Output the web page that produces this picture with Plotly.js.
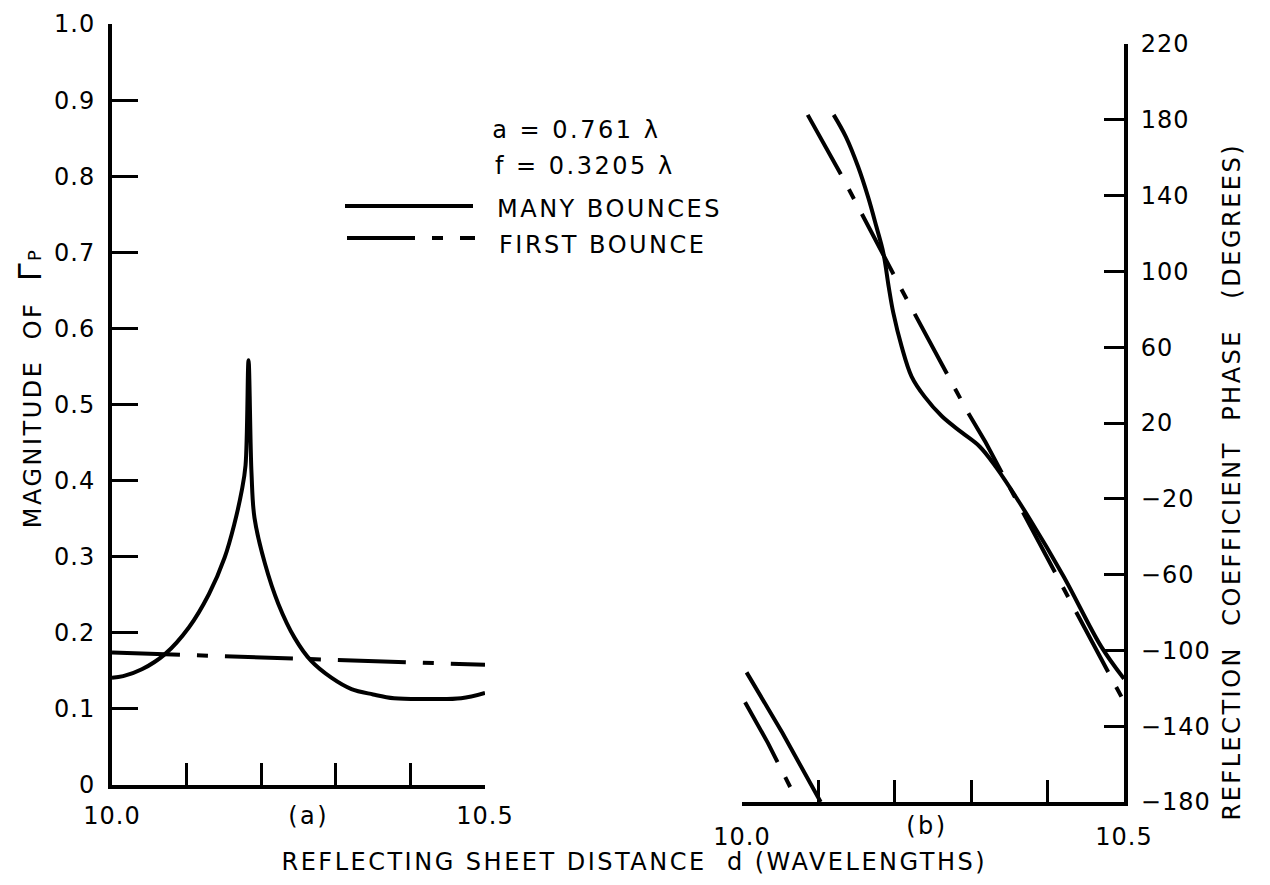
<!DOCTYPE html>
<html>
<head>
<meta charset="utf-8">
<script src="https://cdn.plot.ly/plotly-3.0.1.min.js"></script>
<style>
  html, body { margin: 0; padding: 0; background: #fff; }
  #chart { width: 1270px; height: 885px; }
  .js-plotly-plot .annotation-text { letter-spacing: 2.5px; }
  .js-plotly-plot .xtick text, .js-plotly-plot .ytick text,
  .js-plotly-plot .x2tick text, .js-plotly-plot .y2tick text { letter-spacing: 1px; }
</style>
</head>
<body>
<div id="chart"></div>
<script>
// ---------- Panel (a): magnitude of reflection coefficient ----------
const magManyD = [10.0, 10.015, 10.04, 10.071, 10.103, 10.13, 10.151, 10.164, 10.174, 10.179, 10.183, 10.187, 10.191, 10.205, 10.223, 10.245, 10.267, 10.294, 10.321, 10.35, 10.378, 10.424, 10.468, 10.5];
const magMany  = [0.141, 0.143, 0.152, 0.172, 0.207, 0.251, 0.299, 0.343, 0.387, 0.42, 0.558, 0.41, 0.351, 0.291, 0.238, 0.193, 0.163, 0.141, 0.126, 0.119, 0.114, 0.113, 0.114, 0.121];
const magFirstD = [10.0, 10.1, 10.2, 10.3, 10.4, 10.5];
const magFirst  = [0.174, 0.171, 0.168, 0.164, 0.161, 0.158];

// ---------- Panel (b): reflection coefficient phase (degrees) ----------
const phManyUpperD = [10.120, 10.136, 10.152, 10.165, 10.176, 10.185, 10.192, 10.198, 10.209, 10.222, 10.239, 10.262, 10.288, 10.311, 10.332, 10.377, 10.421, 10.470, 10.5];
const phManyUpper  = [182.6, 171, 155.2, 139.3, 123.5, 109.8, 91.9, 78.2, 60.3, 44.5, 33.9, 23.4, 14.9, 7.6, -3.0, -30.9, -61, -97.9, -115];
const phManyLowerD = [10.006, 10.053, 10.103];
const phManyLower  = [-111.6, -143.6, -180];
const phFirstUpperD = [10.086, 10.132, 10.209, 10.295, 10.319, 10.421, 10.5];
const phFirstUpper  = [182.6, 149.4, 90.3, 26, 9.7, -66.8, -127];
const phFirstLowerD = [10.004, 10.034, 10.073];
const phFirstLower  = [-127.4, -148.9, -180];

// ---------- Tick labels ----------
const xTickVals = [10.0, 10.5];
const xTickText = ['10.0', '10.5'];
const xMinorTickVals = [10.1, 10.2, 10.3, 10.4];
const magTickVals = [0, 0.1, 0.2, 0.3, 0.4, 0.5, 0.6, 0.7, 0.8, 0.9, 1.0];
const magTickText = ['0', '0.1', '0.2', '0.3', '0.4', '0.5', '0.6', '0.7', '0.8', '0.9', '1.0'];
const phTickVals = [-180, -140, -100, -60, -20, 20, 60, 100, 140, 180, 220];
const phTickText = ['\u2212180', '\u2212140', '\u2212100', '\u221260', '\u221220', '20', '60', '100', '140', '180', '220'];

const FONT = 'DejaVu Sans, Liberation Sans, sans-serif';
const DASHDOT = '68px,17px,11px,17px';
const LW = 4;

const traces = [
  { x: magManyD, y: magMany, xaxis: 'x', yaxis: 'y', mode: 'lines', name: 'MANY BOUNCES',
    line: { color: '#000', width: LW, shape: 'spline', smoothing: 1 }, showlegend: false },
  { x: magFirstD, y: magFirst, xaxis: 'x', yaxis: 'y', mode: 'lines', name: 'FIRST BOUNCE',
    line: { color: '#000', width: LW, dash: DASHDOT }, showlegend: false },
  { x: phManyUpperD, y: phManyUpper, xaxis: 'x2', yaxis: 'y2', mode: 'lines', name: 'MANY BOUNCES',
    line: { color: '#000', width: LW, shape: 'spline', smoothing: 1 }, showlegend: false },
  { x: phManyLowerD, y: phManyLower, xaxis: 'x2', yaxis: 'y2', mode: 'lines', name: 'MANY BOUNCES',
    line: { color: '#000', width: LW }, showlegend: false },
  { x: phFirstUpperD, y: phFirstUpper, xaxis: 'x2', yaxis: 'y2', mode: 'lines', name: 'FIRST BOUNCE',
    line: { color: '#000', width: LW, dash: DASHDOT }, showlegend: false },
  { x: phFirstLowerD, y: phFirstLower, xaxis: 'x2', yaxis: 'y2', mode: 'lines', name: 'FIRST BOUNCE',
    line: { color: '#000', width: LW, dash: DASHDOT }, showlegend: false }
];

const W = 1270, H = 885;
const px = v => v / W;
const py = v => 1 - v / H;

const TICKFONT = { family: FONT, size: 24, color: '#000' };
const axisCommon = {
  showline: true, linecolor: '#000', linewidth: LW, showgrid: false, zeroline: false,
  ticks: 'inside', tickcolor: '#000', tickwidth: 3, tickfont: TICKFONT, fixedrange: true
};
const minorX = { tickmode: 'array', tickvals: xMinorTickVals, ticks: 'inside', ticklen: 22, tickwidth: 3, tickcolor: '#000', showgrid: false };

const annFont = { family: FONT, size: 24, color: '#000' };

const layout = {
  width: W, height: H,
  margin: { l: 0, r: 0, t: 0, b: 0, pad: 0 },
  paper_bgcolor: '#fff', plot_bgcolor: 'rgba(0,0,0,0)',
  showlegend: false,
  font: { family: FONT, color: '#000' },
  xaxis: Object.assign({}, axisCommon, {
    domain: [px(112), px(485)], range: [10, 10.5], anchor: 'y',
    tickmode: 'array', tickvals: xTickVals, ticktext: xTickText, ticklen: 22, ticklabelstandoff: 6,
    minor: minorX
  }),
  yaxis: Object.assign({}, axisCommon, {
    domain: [py(785), py(24)], range: [0, 1], anchor: 'x',
    tickmode: 'array', tickvals: magTickVals, ticktext: magTickText, ticklen: 26, ticklabelstandoff: 8
  }),
  xaxis2: Object.assign({}, axisCommon, {
    domain: [px(742), px(1124)], range: [10, 10.5], anchor: 'y2',
    tickmode: 'array', tickvals: xTickVals, ticktext: xTickText, ticklen: 22, ticklabelstandoff: 10,
    minor: minorX
  }),
  yaxis2: Object.assign({}, axisCommon, {
    domain: [py(802), py(44)], range: [-180, 220], anchor: 'x2', side: 'right',
    tickmode: 'array', tickvals: phTickVals, ticktext: phTickText, ticklen: 20, ticklabelstandoff: 8
  }),
  shapes: [
    { type: 'line', xref: 'paper', yref: 'paper', x0: px(345), x1: px(473), y0: py(206), y1: py(206),
      line: { color: '#000', width: LW } },
    { type: 'line', xref: 'paper', yref: 'paper', x0: px(347), x1: px(475), y0: py(238), y1: py(238),
      line: { color: '#000', width: LW, dash: DASHDOT } }
  ],
  annotations: [
    { text: 'a = 0.761 \u03bb', xref: 'paper', yref: 'paper', x: px(504), y: py(130), xanchor: 'left', yanchor: 'middle',
      showarrow: false, font: annFont },
    { text: 'f = 0.3205 \u03bb', xref: 'paper', yref: 'paper', x: px(508), y: py(166), xanchor: 'left', yanchor: 'middle',
      showarrow: false, font: annFont },
    { text: 'MANY BOUNCES', xref: 'paper', yref: 'paper', x: px(510), y: py(209), xanchor: 'left', yanchor: 'middle',
      showarrow: false, font: annFont },
    { text: 'FIRST BOUNCE', xref: 'paper', yref: 'paper', x: px(512), y: py(245), xanchor: 'left', yanchor: 'middle',
      showarrow: false, font: annFont },
    { text: '(a)', xref: 'x', yref: 'paper', x: 10.263, y: py(816), xanchor: 'center', yanchor: 'middle',
      showarrow: false, font: annFont },
    { text: '(b)', xref: 'x2', yref: 'paper', x: 10.242, y: py(826), xanchor: 'center', yanchor: 'middle',
      showarrow: false, font: annFont },
    { text: 'REFLECTING SHEET DISTANCE  d (WAVELENGTHS)', xref: 'paper', yref: 'paper', x: px(634), y: py(862),
      xanchor: 'center', yanchor: 'middle', showarrow: false, font: annFont },
    { text: 'MAGNITUDE  OF  <span style="font-size:32px">\u0393</span><span style="font-size:18px">P</span>', xref: 'paper', yref: 'paper',
      x: px(30), y: py(388), xanchor: 'center', yanchor: 'middle', textangle: -90, showarrow: false,
      font: annFont },
    { text: 'REFLECTION  COEFFICIENT  PHASE   (DEGREES)', xref: 'paper', yref: 'paper',
      x: px(1232), y: py(482), xanchor: 'center', yanchor: 'middle', textangle: -90, showarrow: false,
      font: annFont }
  ]
};

Plotly.newPlot('chart', traces, layout, { staticPlot: true, displayModeBar: false });
</script>
</body>
</html>
